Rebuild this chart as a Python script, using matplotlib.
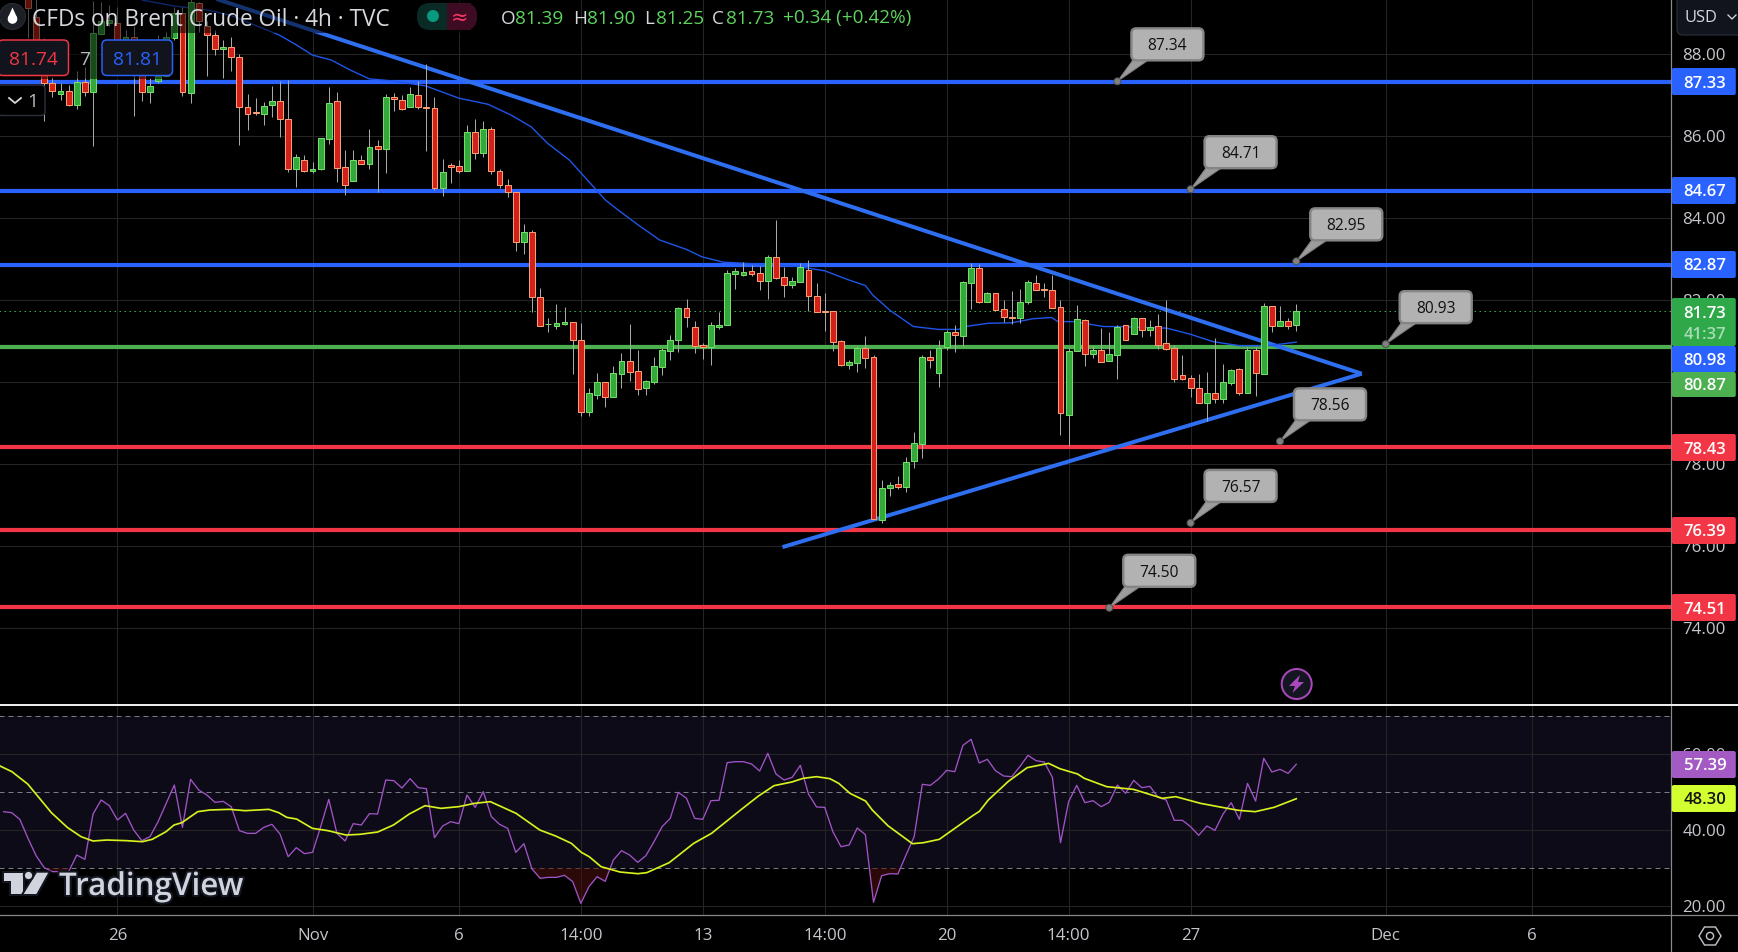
import numpy as np
import matplotlib
matplotlib.use("Agg")
import matplotlib.pyplot as plt
import matplotlib.patheffects as pe
from matplotlib.patches import FancyBboxPatch, Circle, Polygon, Rectangle

plt.rcParams['font.family'] = ['Open Sans', 'DejaVu Sans']

# candles, bars 3..159 (the first three sit behind the logo)
first_bar = 3
opens = [89.8, 88.92, 88.3, 87.29, 87.04, 87.10, 86.77, 87.32, 87.09, 88.49, 88.77, 88.77, 88.1, 88.41, 87.6, 87.09, 87.35,
         87.47, 88.39, 89.0, 87.06, 89.24, 88.68, 88.46, 88.14, 88.17, 87.93, 86.71, 86.6, 86.55, 86.77, 86.85, 86.41,
         85.21, 85.41, 85.16, 85.21, 85.94, 86.85, 85.24, 84.92, 85.41, 85.33, 85.76, 85.7, 86.97, 86.88, 86.71, 87.0,
         86.72, 86.68, 84.75, 85.29, 85.27, 85.16, 86.1, 85.6, 86.17, 85.15, 84.8, 84.63, 83.41, 83.66, 82.09, 81.41,
         81.38, 81.42, 81.46, 81.02, 79.28, 79.7, 80.0, 79.65, 80.21, 80.51, 80.27, 79.87, 80.0, 80.38, 80.77, 81.02,
         81.8, 81.36, 80.9, 80.85, 81.35, 81.4, 82.65, 82.62, 82.71, 82.66, 82.48, 83.05, 82.56, 82.38, 82.45, 82.75,
         82.1, 81.75, 81.73, 81.0, 80.43, 80.47, 80.83, 80.61, 76.65, 77.43, 77.51, 77.45, 78.07, 78.5, 80.61, 80.23,
         80.85, 81.22, 81.14, 82.43, 82.78, 81.97, 82.17, 81.78, 81.6, 81.58, 81.97, 82.41, 82.27, 82.24, 81.83, 79.21,
         80.76, 81.51, 80.7, 80.78, 80.53, 80.67, 81.39, 81.19, 81.56, 81.28, 81.37, 80.95, 80.83, 80.17, 80.1, 79.85,
         79.5, 79.75, 79.6, 79.99, 80.32, 79.75, 80.78, 80.21, 81.85, 81.38, 81.49, 81.39]
highs = [90.0, 89.4, 88.4, 87.44, 87.29, 87.25, 87.59, 87.68, 89.3, 89.28, 89.2, 89.16, 88.6, 88.7, 87.9, 87.41, 88.47,
         88.55, 89.16, 89.16, 89.4, 89.28, 88.8, 88.59, 88.35, 88.41, 88.0, 87.03, 86.93, 86.84, 87.23, 87.35, 87.37,
         85.58, 85.54, 85.38, 85.97, 87.2, 87.07, 85.67, 85.67, 85.54, 86.18, 85.91, 87.02, 87.05, 87.0, 87.19, 87.35,
         87.76, 86.96, 85.45, 85.34, 85.42, 86.28, 86.42, 86.37, 86.22, 85.2, 84.95, 84.63, 83.86, 83.71, 82.29, 81.56,
         81.91, 81.83, 81.46, 81.44, 79.85, 80.23, 80.0, 80.4, 80.71, 81.42, 80.79, 80.06, 80.62, 80.84, 81.15, 81.84,
         82.03, 81.5, 80.95, 81.47, 81.72, 82.75, 82.78, 82.93, 82.86, 82.84, 83.1, 83.96, 82.82, 82.57, 82.9, 82.98,
         82.41, 82.18, 81.73, 81.03, 80.54, 80.89, 81.13, 80.67, 77.62, 77.56, 77.71, 78.18, 78.79, 80.67, 80.79, 81.03,
         81.27, 81.39, 82.47, 82.9, 82.88, 82.2, 82.19, 82.0, 82.23, 82.27, 82.5, 82.62, 82.41, 82.62, 82.0, 80.83,
         81.89, 81.54, 80.89, 81.32, 81.23, 81.39, 81.39, 81.59, 81.56, 81.52, 81.67, 82.0, 80.9, 80.67, 80.18, 80.2,
         80.24, 81.07, 80.45, 80.32, 80.35, 80.87, 80.85, 81.93, 81.86, 81.86, 81.56, 81.90]
lows = [88.4, 88.2, 86.38, 86.97, 86.89, 86.75, 86.67, 86.98, 85.77, 88.49, 88.7, 88.27, 87.9, 86.5, 86.87, 86.80, 87.29,
        87.45, 88.35, 86.98, 86.8, 88.55, 87.47, 87.98, 87.43, 87.59, 85.79, 86.15, 86.52, 86.28, 86.48, 85.98, 85.14,
        84.77, 85.14, 85.1, 85.19, 85.81, 84.89, 84.57, 84.92, 85.33, 85.2, 84.63, 85.11, 86.62, 86.64, 86.71, 86.67,
        85.65, 84.69, 84.55, 84.87, 85.11, 85.16, 85.45, 85.5, 85.08, 84.75, 84.53, 83.21, 83.13, 81.72, 81.38, 81.23,
        81.31, 81.4, 80.21, 79.18, 79.18, 79.59, 79.4, 79.65, 79.87, 80.03, 79.69, 79.69, 79.96, 80.18, 80.54, 80.74,
        81.36, 80.71, 80.57, 80.41, 81.31, 81.4, 82.28, 82.6, 82.6, 82.25, 82.03, 82.52, 82.08, 82.31, 82.45, 81.73,
        81.72, 81.26, 80.77, 80.4, 80.32, 80.26, 80.36, 76.67, 76.58, 77.23, 77.4, 77.33, 77.92, 78.16, 80.36, 79.89,
        80.79, 80.74, 80.89, 81.79, 81.94, 81.97, 81.77, 81.47, 81.41, 81.45, 81.92, 82.26, 82.09, 81.82, 78.72, 78.45,
        80.76, 80.4, 80.59, 80.5, 80.53, 80.08, 81.04, 81.17, 81.11, 81.13, 80.82, 80.8, 80.0, 80.06, 79.65, 79.5,
        79.06, 79.5, 79.5, 79.94, 79.69, 79.75, 79.67, 80.21, 81.23, 81.38, 81.3, 81.25]
closes = [89.12, 88.31, 87.29, 87.11, 87.10, 86.77, 87.33, 87.09, 88.51, 88.80, 88.84, 88.35, 88.41, 87.8, 87.09, 87.23,
          87.47, 88.41, 89.0, 87.09, 89.27, 88.8, 88.46, 88.14, 88.17, 87.94, 86.71, 86.55, 86.57, 86.75, 86.85, 86.43,
          85.21, 85.49, 85.16, 85.2, 85.95, 86.8, 85.23, 84.82, 85.41, 85.33, 85.75, 85.7, 86.95, 86.92, 86.67, 87.02,
          86.72, 86.70, 84.75, 85.12, 85.26, 85.16, 86.1, 85.6, 86.17, 85.16, 84.8, 84.63, 83.41, 83.66, 82.09, 81.38,
          81.42, 81.44, 81.47, 81.04, 79.28, 79.73, 80.0, 79.65, 80.22, 80.51, 80.26, 79.84, 80.02, 80.39, 80.78, 81.02,
          81.8, 81.6, 80.89, 80.85, 81.39, 81.39, 82.66, 82.71, 82.7, 82.65, 82.48, 83.05, 82.55, 82.38, 82.46, 82.8,
          82.11, 81.72, 81.72, 80.99, 80.43, 80.49, 80.83, 80.6, 76.67, 77.43, 77.49, 77.45, 78.05, 78.51, 80.61, 80.55,
          80.83, 81.22, 81.16, 82.44, 82.78, 81.97, 82.17, 81.77, 81.6, 81.58, 81.97, 82.44, 82.26, 82.25, 81.82, 79.24,
          80.76, 81.54, 80.7, 80.78, 80.5, 80.68, 81.36, 81.04, 81.56, 81.28, 81.34, 80.92, 80.82, 80.09, 80.09, 79.85,
          79.5, 79.75, 79.6, 80.0, 80.29, 79.75, 80.8, 80.23, 81.85, 81.38, 81.49, 81.38, 81.73]
closes = closes[:len(opens)]

ma_bars = [17.1, 20.9, 25, 27.8, 31.4, 33.9, 36, 38, 40.3, 42.6, 45, 47.8, 51.9, 56, 59.6, 62.4, 64.9, 66.9, 69.6, 74,
           75.6, 77.9, 80.7, 84, 85.9, 88.5, 97.1, 101, 103.9, 106, 106.9, 109, 111.9, 115, 117.4, 118.6, 121.1, 124,
           126.6, 128.9, 129.7, 131.6, 135.3, 137.3, 139.8, 143.1, 146, 148.8, 152.1, 155.4, 159]
ma_vals = [89.32, 89.18, 89.08, 88.96, 88.67, 88.47, 88.23, 87.98, 87.86, 87.62, 87.4, 87.35, 87.23, 86.93, 86.78, 86.52,
           86.23, 85.83, 85.42, 84.45, 84.2, 83.86, 83.47, 83.24, 83.06, 82.93, 82.84, 82.72, 82.5, 82.36, 82.13, 81.76,
           81.36, 81.29, 81.29, 81.37, 81.44, 81.45, 81.55, 81.58, 81.48, 81.48, 81.36, 81.36, 81.34, 81.32, 81.17,
           80.99, 80.89, 80.89, 80.98]

# support / resistance levels
blue_levels = [87.33, 84.67, 82.87]
green_levels = [80.87]
red_levels = [78.43, 76.39, 74.51]
last_price = 81.73

# triangle
upper_bars = [20, 167.05]
upper_vals = [89.75, 80.21]
lower_bars = [95.8, 167.05]
lower_vals = [75.98, 80.21]

# grey callouts
callout_text = ['87.34', '84.71', '82.95', '80.93', '78.56', '76.57', '74.50']
callout_vals = [87.34, 84.71, 82.95, 80.93, 78.56, 76.57, 74.50]
callout_bars = [137, 146, 159, 170, 157, 146, 136]

# rsi, bars 0..159
rsi = [44.89, 44.62, 42.86, 37.85, 33.28, 30.11, 29.06, 29.06, 29.06, 33.45, 32.31, 44.27, 47.97, 46.47, 42.69, 44.45,
       40.05, 37.24, 38.29, 42.25, 47.09, 51.92, 40.75, 53.42, 50.6, 49.29, 47.35, 47.61, 46.21, 39.87, 39.17, 39.17,
       40.75, 41.55, 38.99, 33.01, 35.39, 33.81, 34.16, 40.93, 48.14, 39.17, 37.15, 41.72, 41.37, 44.36, 44.27, 53.24,
       53.07, 51.13, 53.6, 51.22, 50.96, 38.03, 41.11, 42.25, 41.72, 49.29, 46.03, 50.17, 43.57, 41.55, 40.49, 34.16,
       36.44, 29.76, 27.3, 27.56, 27.56, 28.09, 26.42, 20.7, 25.1, 27.74, 26.51, 32.14, 34.6, 33.45, 31.52, 33.28,
       36.97, 40.93, 43.13, 49.99, 48.41, 43.13, 42.86, 47.79, 47.88, 57.82, 58.08, 58.08, 57.47, 55.62, 60.28, 54.83,
       53.24, 53.95, 57.11, 49.55, 46.12, 46.03, 39.61, 35.65, 36.09, 40.58, 38.82, 20.97, 28.0, 28.53, 28.44, 33.45,
       38.29, 52.1, 51.84, 53.51, 55.79, 55.44, 62.39, 63.97, 57.73, 58.7, 55.71, 54.3, 54.12, 56.76, 59.75, 58.34,
       57.99, 53.95, 36.71, 47.53, 51.84, 47.26, 47.79, 46.21, 47.35, 51.92, 49.73, 53.16, 51.22, 51.57, 48.67, 47.97,
       42.6, 42.6, 40.93, 38.64, 41.11, 39.96, 44.27, 47.26, 42.86, 52.36, 47.7, 58.96, 55.35, 56.06, 55.0, 57.39]

rsi_ma_bars = [-0.44, 1.02, 2.96, 4.42, 5.88, 7.83, 9.53, 10.99, 12.69, 15.12, 17.07, 18.28, 19.98, 20.96, 21.93, 23.88,
               25.34, 27.77, 29.71, 32.63, 33.85, 34.82, 36.03, 37.98, 39.92, 42.11, 43.82, 46.01, 47.95, 49.9, 51.84,
               53.79, 55.98, 57.94, 59.87, 63.03, 65.95, 67.9, 69.84, 71.06, 72.03, 73.49, 75.82, 78.0, 79.1, 81.86,
               82.96, 84.88, 87.08, 90.65, 92.85, 94.77, 96.96, 98.34, 99.98, 101.63, 102.72, 104.1, 106.02, 106.85,
               108.77, 111.79, 113.17, 115.09, 117.0, 119.2, 120.03, 121.12, 123.59, 125.9, 128.54, 129.91, 132.1,
               132.93, 135.68, 138.97, 142.54, 144.18, 147.21, 149.4, 151.88, 153.96, 156.27, 159]
rsi_ma_vals = [56.94, 55.44, 52.19, 48.41, 44.62, 40.75, 38.29, 37.15, 37.41, 37.24, 36.97, 37.59, 39.61, 41.37, 41.99,
               44.89, 45.33, 45.5, 45.15, 45.5, 44.62, 43.39, 42.95, 40.49, 39.87, 38.73, 38.91, 39.52, 41.37, 44.27,
               46.47, 45.77, 46.21, 47.09, 47.53, 44.45, 40.05, 38.47, 36.53, 34.16, 33.01, 30.38, 28.97, 28.53, 28.79,
               31.43, 33.28, 36.53, 39.17, 45.33, 49.02, 51.75, 52.72, 53.68, 54.12, 53.6, 52.36, 49.73, 47.7, 45.33,
               41.19, 36.44, 36.71, 37.59, 40.49, 43.83, 44.98, 47.97, 52.89, 56.5, 57.64, 56.23, 54.83, 53.68, 51.48,
               50.78, 48.41, 48.85, 47.09, 46.21, 45.24, 44.89, 46.03, 48.30]

# ticks
price_ticks = [74, 76, 78, 80, 82, 84, 86, 88]
rsi_ticks = [20, 40, 60]
rsi_bands = [30, 50, 70]
time_bars = [14, 38, 56, 71, 86, 101, 116, 131, 146, 170, 188]
time_labels = ['26', 'Nov', '6', '14:00', '13', '14:00', '20', '14:00', '27', 'Dec', '6']

W, H = 1738, 952
PX = 0.72  # one pixel in points at dpi 100
AXIS_X = 1671.3
MAIN_BOTTOM = 704.7
RSI_BOTTOM = 915.3
GRID = '#242424'
AXIS_TEXT = '#c4c6cc'
BLUE = '#2962ff'
GREEN = '#4caf50'
RED = '#f23645'

fig = plt.figure(figsize=(W / 100, H / 100), dpi=100, facecolor='black')


def pane(top, bottom):
    a = fig.add_axes([0, 1 - bottom / H, AXIS_X / W, (bottom - top) / H], facecolor='black')
    for s in a.spines.values():
        s.set_visible(False)
    a.set_xlim(-0.443, 205.13)
    a.set_axisbelow(True)
    a.grid(True, color=GRID, lw=1.1 * PX)
    a.yaxis.tick_right()
    a.tick_params(axis='both', length=0, colors=AXIS_TEXT, labelsize=12.2)
    a.tick_params(axis='y', pad=8)
    a.set_xticks(time_bars)
    return a


ax = pane(0, MAIN_BOTTOM)
ax.set_ylim(72.137, 89.324)
ax.set_yticks(price_ticks, [f'{t:.2f}' for t in price_ticks])
ax.set_xticklabels([])

# levels and triangle go under the candles
ax.hlines(blue_levels, -1, 206, color=BLUE, lw=4.2 * PX, zorder=2)
ax.hlines(green_levels, -1, 206, color=GREEN, lw=4.2 * PX, zorder=2)
ax.hlines(red_levels, -1, 206, color=RED, lw=4.2 * PX, zorder=2)
ax.hlines(last_price, -1, 206, color='#34a84a', lw=1 * PX, linestyles=(0, (1.5, 3.5)), zorder=2)
ax.plot(upper_bars, upper_vals, color='#2e6ff2', lw=4 * PX, zorder=2, solid_capstyle='butt')
ax.plot(lower_bars, lower_vals, color='#2e6ff2', lw=4 * PX, zorder=2, solid_capstyle='butt')
ax.plot(ma_bars, ma_vals, color='#1f55e8', lw=1.4 * PX, zorder=2.5)

bars = np.arange(first_bar, first_bar + len(opens))
o, h, l, c = map(np.array, (opens, highs, lows, closes))
up = c >= o
ax.vlines(bars, l, h, color='#a8a8a8', lw=1 * PX, zorder=3)
ax.bar(bars[up], (c - o)[up], bottom=o[up], width=0.72, color='#35a83c', edgecolor='#74de68',
       linewidth=1 * PX, zorder=4)
ax.bar(bars[~up], (o - c)[~up], bottom=c[~up], width=0.72, color='#d2201a', edgecolor='#f7a072',
       linewidth=1 * PX, zorder=4)

rs = pane(MAIN_BOTTOM, RSI_BOTTOM)
rs.set_ylim(17.55, 73.11)
rs.set_yticks(rsi_ticks, [f'{t:.2f}' for t in rsi_ticks])
rs.set_xticklabels(time_labels)
rs.tick_params(axis='x', pad=9.5)
rs.axhspan(30, 70, color='#0e0b18', zorder=0.5, lw=0)
rs.hlines(rsi_bands, -1, 206, color='#787b86', lw=1 * PX, linestyles=(0, (5, 4)), zorder=1)
rsi_x = np.arange(len(rsi))
rsi_arr = np.array(rsi, dtype=float)
rs.fill_between(rsi_x, rsi_arr, 30, where=rsi_arr < 30, interpolate=True, color='#4a1010', alpha=0.6, lw=0, zorder=1)
rs.plot(rsi_x, rsi, color='#a254c7', lw=1.3 * PX, zorder=2)
rs.plot(rsi_ma_bars, rsi_ma_vals, color='#d7f21c', lw=1.7 * PX, zorder=3)

# everything else lives on an overlay in pixel coordinates
ov = fig.add_axes([0, 0, 1, 1], zorder=10)
ov.set_xlim(0, W)
ov.set_ylim(H, 0)
ov.axis('off')
ov.patch.set_visible(False)


def rrect(x0, y0, x1, y1, fc, ec='none', lw=1, r=4, alpha=None, zorder=3):
    p = FancyBboxPatch((x0, y0), x1 - x0, y1 - y0, boxstyle=f'round,pad=0,rounding_size={r}',
                       fc=fc, ec=ec, lw=lw * PX, alpha=alpha, zorder=zorder)
    ov.add_patch(p)
    return p


def label(x, y, s, color='white', size=12, ha='center', weight='normal', zorder=6, **kw):
    return ov.text(x, y, s, color=color, fontsize=size, ha=ha, va='center_baseline', fontweight=weight,
                   zorder=zorder, **kw)


# axis frame
ov.plot([AXIS_X, AXIS_X], [0, H], color='#8a8a8a', lw=1.2 * PX, zorder=1)
ov.plot([0, W], [RSI_BOTTOM, RSI_BOTTOM], color='#8a8a8a', lw=1.2 * PX, zorder=1)
ov.plot([0, W], [MAIN_BOTTOM, MAIN_BOTTOM], color='#ececec', lw=2 * PX, zorder=1)

# dark veil behind the legend rows
ov.add_patch(Rectangle((0, 0), 470, 33, fc='black', alpha=0.55, lw=0, zorder=2))
ov.add_patch(Rectangle((0, 33), 173, 46, fc='black', alpha=0.55, lw=0, zorder=2))

# logo and title
ov.add_patch(Circle((12.5, 16.5), 13, fc='#1c1f26', ec='#2a2d34', lw=1 * PX, zorder=3))
ov.add_patch(Circle((12.5, 19), 4.8, fc='white', lw=0, zorder=4))
ov.add_patch(Polygon([(8.2, 17), (12.5, 7.5), (16.8, 17)], fc='white', lw=0, zorder=4))
label(32, 16.5, 'CFDs on Brent Crude Oil · 4h · TVC', color='#d6d8de', size=16.3, ha='left')

# market status pill
rrect(417, 3, 477, 30, '#0a2a26', r=13)
ov.add_patch(Rectangle((447, 3), 24, 27, fc='#3d0b22', lw=0, zorder=3.2))
rrect(455, 3, 477, 30, '#3d0b22', r=13, zorder=3.1)
ov.add_patch(Circle((433, 16), 6, fc='#089981', lw=0, zorder=4))
label(460, 15.5, '≈', color='#f23665', size=15, family=['DejaVu Sans'])

# OHLC
ohlc_grey = ['O', 'H', 'L', 'C']
ohlc_grey_x = [501, 573, 644, 712]
ohlc_vals = ['81.39', '81.90', '81.25', '81.73']
ohlc_val_x = [515, 587, 656, 726]
for x, s in zip(ohlc_grey_x, ohlc_grey):
    label(x, 16.5, s, color='#d6d8de', size=13.6, ha='left')
for x, s in zip(ohlc_val_x, ohlc_vals):
    label(x, 16.5, s, color='#5fd35f', size=13.6, ha='left')
label(783, 16.5, '+0.34 (+0.42%)', color='#5fd35f', size=13.6, ha='left')

# sell / buy buttons
rrect(-2, 40, 68.5, 75.5, '#11141c', ec=RED, lw=1.5, r=5)
label(33.5, 58, '81.74', color=RED, size=13.8)
label(85, 58, '7', color='#b8bac0', size=13.8)
rrect(102, 40, 172.5, 75.5, '#11141c', ec=BLUE, lw=1.5, r=5)
label(138, 58, '81.81', color=BLUE, size=13.8)
rrect(-2, 85, 45, 115.5, 'black', ec='#2a2e39', lw=1.5, r=4)
ov.plot([9, 15, 21], [98, 103, 98], color='#d6d8de', lw=1.8 * PX, zorder=5)
label(33, 100, '1', color='#b8bac0', size=13.8)

# callouts, anchored on the price scale
for txt, b, v in zip(callout_text, callout_bars, callout_vals):
    x, y = ov.transData.inverted().transform(ax.transData.transform((b, v)))
    ov.add_patch(Polygon([(x, y), (x + 16, y - 22), (x + 32, y - 22)], fc='#9c9c9c', ec='#7e7e7e', lw=1 * PX, zorder=4))
    rrect(x + 14, y - 53, x + 86, y - 21, '#b2b2b2', ec='#858585', lw=2.4, r=5, zorder=4.5)
    ov.add_patch(Circle((x, y), 3.5, fc='#808080', ec='#4e4e4e', lw=1 * PX, zorder=5))
    label(x + 50, y - 37, txt, color='#111111', size=11.2)

# price tags on the right scale
tag_text = ['87.33', '84.67', '82.87', '80.98', '78.43', '76.39', '74.51', '57.39', '48.30']
tag_top = [68, 177, 251, 346, 434, 517, 594, 751, 785]
tag_bottom = [95, 204, 278, 372, 461, 544, 621, 778, 812]
tag_color = [BLUE, BLUE, BLUE, BLUE, RED, RED, RED, '#a35ac2', '#d2ff2f']
tag_ink = ['white'] * 8 + ['#111111']
for s, t, b, col, ink in zip(tag_text, tag_top, tag_bottom, tag_color, tag_ink):
    ov.add_patch(FancyBboxPatch((AXIS_X + 0.5, t), 64, b - t, boxstyle='round,pad=0,rounding_size=2', fc=col, lw=0, zorder=4))
    label(1705, (t + b) / 2, s, color=ink, size=12, weight=600)
ov.add_patch(FancyBboxPatch((AXIS_X + 0.5, 372), 64, 25, boxstyle='round,pad=0,rounding_size=2', fc=GREEN, lw=0, zorder=3.5))
label(1705, 384.5, '80.87', color='white', size=12, weight=600)
ov.add_patch(FancyBboxPatch((AXIS_X + 0.5, 298), 64, 48, boxstyle='round,pad=0,rounding_size=2', fc='#2fa84a', lw=0, zorder=4.2))
label(1705, 312, '81.73', color='white', size=12, weight=600)
label(1705, 333, '41:37', color='#a9dcb4', size=12, weight=600)

# currency button
rrect(1677, -6, 1745, 35, '#11141c', ec='#2a2e39', lw=1.2, r=6)
label(1701, 16.5, 'USD', color='#d6d8de', size=11.8)
ov.plot([1728, 1732, 1736], [15, 19, 15], color='#d6d8de', lw=1.3 * PX, zorder=6)

# alert icon
ov.add_patch(Circle((1296.7, 684), 15, fc='#141722', ec='#ab47bc', lw=2 * PX, zorder=4))
ov.add_patch(Polygon([(1300, 675), (1289, 686), (1295, 686), (1292.5, 693), (1304, 682), (1298, 682)],
                     fc='#ab47bc', lw=0, zorder=5))

# settings hexagon
hex_x = [1699, 1704.5, 1715.5, 1721, 1715.5, 1704.5]
hex_y = [936, 927, 927, 936, 945, 945]
ov.add_patch(Polygon(list(zip(hex_x, hex_y)), fc='none', ec='#c4c6cc', lw=1.4 * PX, zorder=5))
ov.add_patch(Circle((1710, 936), 3.6, fc='none', ec='#c4c6cc', lw=1.4 * PX, zorder=5))

# watermark
halo = [pe.withStroke(linewidth=3, foreground='#131722')]
wm = [Polygon([(4, 872.7), (22.5, 872.7), (22.5, 894), (11.3, 894), (11.3, 880.7), (4, 880.7)], fc='#d1d4dc', lw=0, zorder=5),
      Polygon([(36.8, 872.7), (48.2, 872.7), (36.4, 894), (23.7, 894)], fc='#d1d4dc', lw=0, zorder=5),
      Circle((28.5, 875.5), 3.6, fc='#d1d4dc', lw=0, zorder=5)]
for p in wm:
    p.set_path_effects(halo)
    ov.add_patch(p)
t = label(59, 883.5, 'TradingView', color='#d1d4dc', size=22.6, ha='left', weight=600)
t.set_path_effects(halo)

fig.savefig('out.png', dpi=100, facecolor='black')
